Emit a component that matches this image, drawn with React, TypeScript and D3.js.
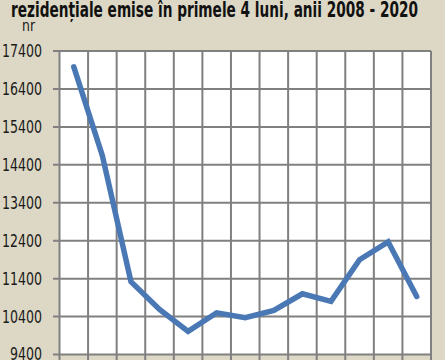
import React from "react";
import * as d3 from "d3";

const years = ["2008","2009","2010","2011","2012","2013","2014","2015","2016","2017","2018","2019","2020"];
const values = [16980, 14640, 11320, 10590, 10010, 10500, 10370, 10560, 11000, 10800, 11900, 12370, 10930];
const yTicks = [9400, 10400, 11400, 12400, 13400, 14400, 15400, 16400, 17400];
const title = "rezidențiale emise în primele 4 luni, anii 2008 - 2020";
const unit = "nr";

export default function App() {
  const W = 445, H = 360;
  const left = 59.5, right = 431, top = 51, bottom = 354.5;
  const x = d3.scaleBand().domain(years).range([left, right]);
  const y = d3.scaleLinear().domain([9400, 17400]).range([bottom, top]);
  const line = d3.line<number>()
    .x((_, i) => (x(years[i]) as number) + x.bandwidth() / 2)
    .y((d) => y(d));
  const font = "'DejaVu Sans Condensed', 'Liberation Sans Narrow', sans-serif";
  return (
    <svg width={W} height={H} style={{ position: "absolute", left: 0, top: 0, display: "block" }}>
      <rect x={0} y={0} width={W} height={H} fill="#ddd8c5" />
      <rect x={left} y={top} width={right - left} height={bottom - top} fill="#ffffff" />
      {yTicks.map((t) => (
        <g key={t}>
          <line x1={53} x2={right} y1={y(t)} y2={y(t)} stroke="#808080" strokeWidth={2} />
          <text x={42} y={y(t)} dy="0.35em" textAnchor="end" fontFamily={font} fontSize={17}
            textLength={String(t).length * 8} lengthAdjust="spacingAndGlyphs" fill="#1a1a1a">{t}</text>
        </g>
      ))}
      {years.map((yr) => (
        <line key={yr} x1={x(yr) as number} x2={x(yr) as number} y1={top} y2={H} stroke="#808080" strokeWidth={2} />
      ))}
      <line x1={right} x2={right} y1={top} y2={H} stroke="#808080" strokeWidth={2} />
      <path d={line(values) || ""} fill="none" stroke="#4a78b5" strokeWidth={5.5} strokeLinejoin="miter" strokeLinecap="round" />
      <text x={11} y={17} fontFamily={font} fontWeight="bold" fontSize={21}
        textLength={407} lengthAdjust="spacingAndGlyphs" fill="#111">{title}</text>
      <text x={22} y={30.5} fontFamily={font} fontSize={15} textLength={13} lengthAdjust="spacingAndGlyphs" fill="#1a1a1a">{unit}</text>
    </svg>
  );
}
